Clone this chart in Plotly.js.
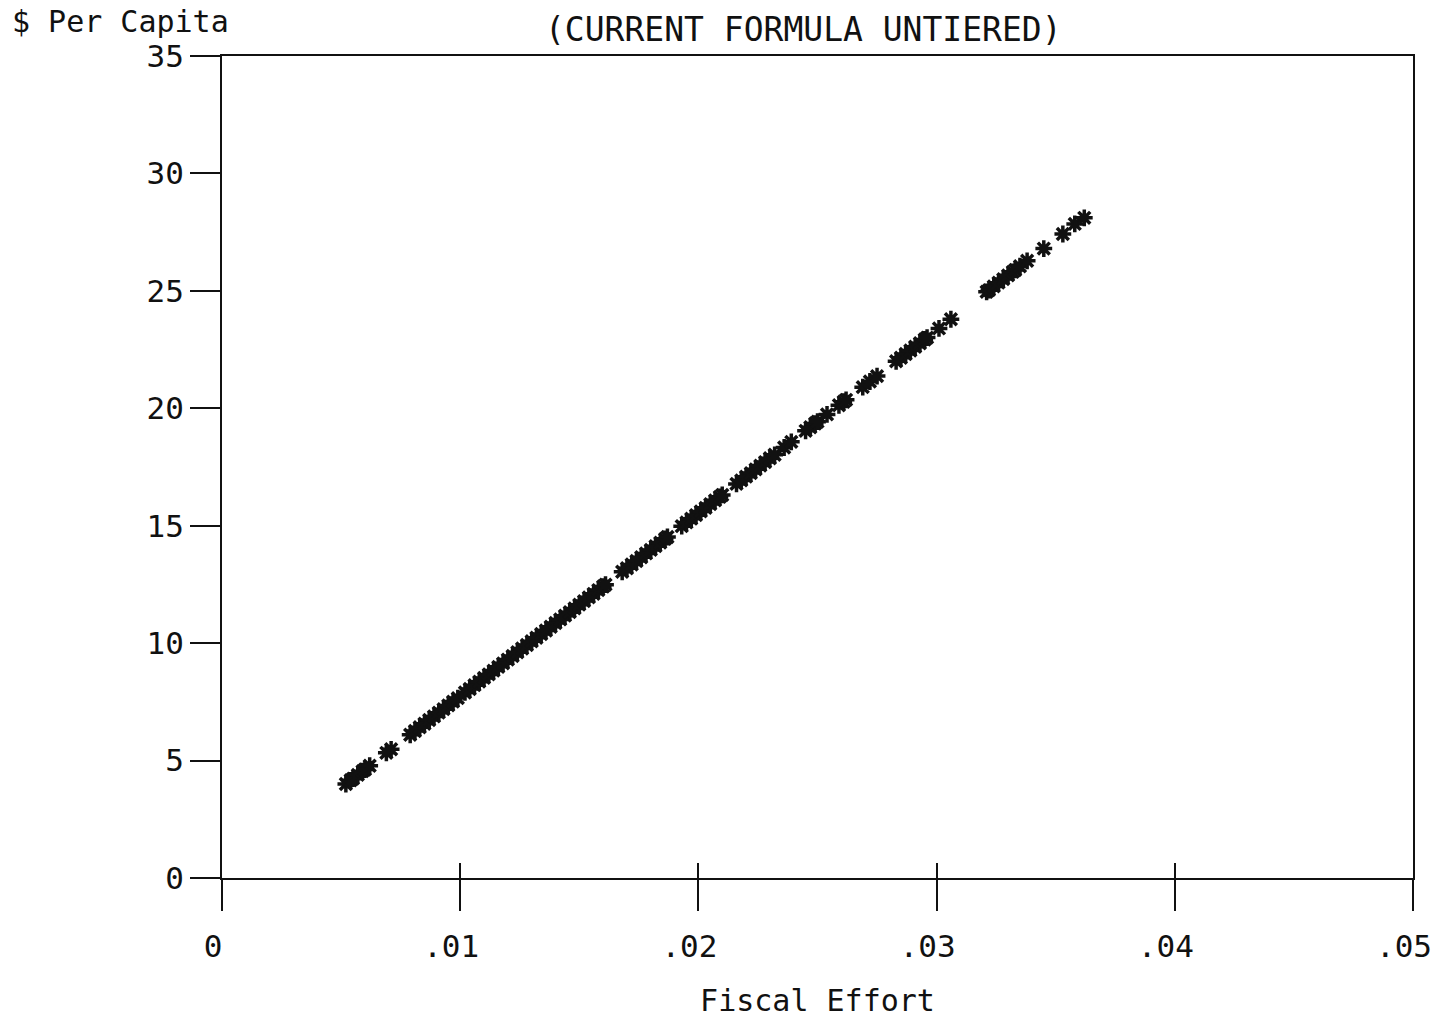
<!DOCTYPE html>
<html>
<head>
<meta charset="utf-8">
<script src="https://cdn.plot.ly/plotly-3.0.1.min.js"></script>
<style>
  html, body { margin: 0; padding: 0; background: #fff; }
  #chart { width: 1435px; height: 1024px; }
</style>
</head>
<body>
<div id="chart"></div>
<script>
// Fiscal effort (x) and dollars per capita (y)
const fiscalEffort = [
  0.0052, 0.0054, 0.0055, 0.0057, 0.0059, 0.0060, 0.0062,
  0.0069, 0.0071,
  0.0079, 0.0081, 0.0083, 0.0085, 0.0087, 0.0089, 0.0091, 0.0093, 0.0095, 0.0097, 0.0099,
  0.0102, 0.0104, 0.0106, 0.0108, 0.0110, 0.0112, 0.0114, 0.0116, 0.0118, 0.0120,
  0.0122, 0.0124, 0.0126, 0.0128, 0.0130, 0.0132, 0.0134, 0.0136, 0.0138, 0.0140,
  0.0142, 0.0144, 0.0146, 0.0148, 0.0150, 0.0152, 0.0154, 0.0156, 0.0158, 0.0160, 0.0161,
  0.0168, 0.0170, 0.0172, 0.0174, 0.0176, 0.0178, 0.0180, 0.0182, 0.0184, 0.0186, 0.0187,
  0.0193, 0.0195, 0.0197, 0.0199, 0.0201, 0.0203, 0.0205, 0.0207, 0.0209, 0.0210,
  0.0216, 0.0218, 0.0220, 0.0222, 0.0224, 0.0226, 0.0228, 0.0230, 0.0232,
  0.0236, 0.0239,
  0.0245, 0.0247, 0.0249, 0.0250, 0.0254,
  0.0259, 0.0261, 0.0262,
  0.0269, 0.0272, 0.0275,
  0.0283, 0.0285, 0.0287, 0.0289, 0.0291, 0.0293, 0.0295, 0.0296,
  0.0301, 0.0306,
  0.0321, 0.0322, 0.0324, 0.0326, 0.0328, 0.0330, 0.0332, 0.0333, 0.0335, 0.0338,
  0.0345, 0.0353, 0.0358, 0.0362
];
const perCapita = [
  4.00, 4.16, 4.23, 4.39, 4.55, 4.62, 4.78,
  5.33, 5.48,
  6.10, 6.26, 6.42, 6.57, 6.73, 6.88, 7.04, 7.19, 7.35, 7.51, 7.66,
  7.90, 8.05, 8.21, 8.36, 8.52, 8.67, 8.83, 8.99, 9.14, 9.30,
  9.45, 9.61, 9.77, 9.92, 10.08, 10.23, 10.39, 10.54, 10.70, 10.86,
  11.01, 11.17, 11.32, 11.48, 11.64, 11.79, 11.95, 12.10, 12.26, 12.41, 12.49,
  13.04, 13.19, 13.35, 13.50, 13.66, 13.82, 13.97, 14.13, 14.28, 14.44, 14.52,
  14.98, 15.14, 15.30, 15.45, 15.61, 15.76, 15.92, 16.08, 16.23, 16.31,
  16.78, 16.93, 17.09, 17.24, 17.40, 17.56, 17.71, 17.87, 18.02,
  18.33, 18.57,
  19.04, 19.19, 19.35, 19.43, 19.74,
  20.13, 20.28, 20.36,
  20.90, 21.14, 21.37,
  22.00, 22.15, 22.31, 22.46, 22.62, 22.77, 22.93, 23.01,
  23.40, 23.79,
  24.96, 25.03, 25.19, 25.35, 25.50, 25.66, 25.81, 25.89, 26.05, 26.28,
  26.80, 27.42, 27.85, 28.11
];
const xTickVals = [0, 0.01, 0.02, 0.03, 0.04, 0.05];
const xTickText = ["0", ".01", ".02", ".03", ".04", ".05"];
const yTickVals = [0, 5, 10, 15, 20, 25, 30, 35];
const yTickText = ["0", "5", "10", "15", "20", "25", "30", "35"];

const FONT = "DejaVu Sans Mono, monospace";
const INK = "#111";

const traces = [
  {
    type: "scatter", mode: "markers",
    x: fiscalEffort, y: perCapita,
    xaxis: "x", yaxis: "y",
    marker: { symbol: "asterisk-open", size: 14, color: INK, line: { color: INK, width: 3.5 } },
    hoverinfo: "x+y"
  },
  {
    type: "scatter", mode: "markers",
    x: fiscalEffort, y: perCapita,
    xaxis: "x2", yaxis: "y",
    marker: { opacity: 0, size: 1 },
    hoverinfo: "skip", showlegend: false
  }
];

const layout = {
  width: 1435, height: 1024,
  paper_bgcolor: "#fff", plot_bgcolor: "#fff",
  showlegend: false,
  margin: { l: 222, r: 22, t: 56, b: 146 },
  font: { family: FONT, color: INK, size: 31 },
  xaxis: {
    range: [0, 0.05],
    tickvals: xTickVals, ticktext: xTickText,
    ticks: "outside", ticklen: 31, tickwidth: 2, tickcolor: INK,
    ticklabelstandoff: 9, ticklabelshift: -9, ticklabeloverflow: "allow",
    showline: true, linecolor: INK, linewidth: 2, mirror: true,
    showgrid: false, zeroline: false,
    tickfont: { family: FONT, size: 31, color: INK },
    title: { text: "Fiscal Effort", font: { family: FONT, size: 30, color: INK }, standoff: 27 }
  },
  xaxis2: {
    range: [0, 0.05], overlaying: "x", anchor: "y", side: "bottom",
    tickvals: xTickVals,
    ticks: "inside", ticklen: 15, tickwidth: 2, tickcolor: INK,
    showticklabels: false, showline: false, showgrid: false, zeroline: false
  },
  yaxis: {
    range: [0, 35],
    tickvals: yTickVals, ticktext: yTickText,
    ticks: "outside", ticklen: 30, tickwidth: 2, tickcolor: INK,
    showline: true, linecolor: INK, linewidth: 2, mirror: true,
    showgrid: false, zeroline: false,
    tickfont: { family: FONT, size: 31, color: INK }
  },
  annotations: [
    {
      text: "$ Per Capita", xref: "paper", yref: "paper",
      x: -222 / 1191 + 10 / 1191, y: 1 + 34 / 822,
      xanchor: "left", yanchor: "middle", showarrow: false,
      font: { family: FONT, size: 30, color: INK }
    },
    {
      text: "(CURRENT FORMULA UNTIERED)", xref: "paper", yref: "paper",
      x: (803 - 222) / 1191, y: 1 + 26 / 822,
      xanchor: "center", yanchor: "middle", showarrow: false,
      font: { family: FONT, size: 33, color: INK }
    }
  ]
};

Plotly.newPlot("chart", traces, layout, { displayModeBar: false });
</script>
</body>
</html>
